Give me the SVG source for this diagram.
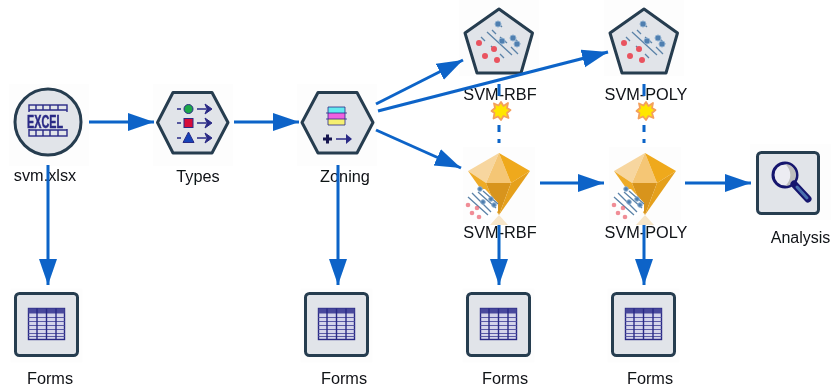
<svg xmlns="http://www.w3.org/2000/svg" width="831" height="389" viewBox="0 0 831 389">
<style>
text{font-family:"Liberation Sans",Arial,sans-serif;font-size:16.3px;fill:#101216;text-anchor:middle}
.sh{fill:#e1e4e9;stroke:#263c50;stroke-width:3;stroke-linejoin:round}
.bg{fill:#fdfdfd}
.c{fill:none;stroke:#0a64c8;stroke-width:3}
.d{fill:none;stroke:#0a64c8;stroke-width:3}
.n{fill:none;stroke:#2a2a86;stroke-width:1.400}
.l{fill:none;stroke:#5a5aa6;stroke-width:1.200}
.r{fill:#e9525f}.b{fill:#4f7fb0;stroke:#8fb0d0;stroke-width:1}
.h{fill:none;stroke:#5b83a8;stroke-width:1.300}
</style>
<defs>
<filter id="soft" x="0" y="0" width="100%" height="100%"><feGaussianBlur stdDeviation="0.4"/></filter>
<marker id="ah" markerUnits="userSpaceOnUse" markerWidth="28" markerHeight="20" refX="26" refY="9" orient="auto"><path d="M0 0L26 9L0 18Z" fill="#0a64c8"/></marker>
<g id="table">
<rect x="-18" y="-16" width="36" height="31" fill="#d4d4ea" stroke="#2a2a86" stroke-width="1.400"/>
<rect x="-18" y="-16" width="36" height="5" fill="#4a4a9c"/>
<path class="l" d="M-18 -7H18M-18 -3H18M-18 1H18M-18 5H18M-18 9H18M-18 12H18"/>
<path class="n" d="M-9.500 -16V15M0 -16V15M9.500 -16V15"/>
</g>
<g id="forms">
<rect class="bg" x="-36" y="-36" width="72" height="74"/>
<rect class="sh" x="-31" y="-31" width="62" height="62" rx="4"/>
<use href="#table"/>
</g>
<g id="penta">
<rect class="bg" x="-40" y="-9" width="80" height="76"/>
<path class="sh" d="M0 0L33.500 24L22 64H-22L-34 24Z"/>
<path class="h" d="M-12 23L13 46M-7 21L-3 25M1 28L8 34M12 38L19 45M-18 28L-14 32M-8 37L-3 42M1 45L5 49M-2 13L3 18M16 30L21 35"/>
<circle class="b" cx="-1" cy="15" r="3"/><circle class="b" cx="14" cy="29" r="3"/>
<circle class="b" cx="3" cy="32" r="3"/><circle class="b" cx="18" cy="35" r="3"/>
<circle class="r" cx="-20" cy="34" r="3"/><circle class="r" cx="-5" cy="40" r="3"/><circle class="r" cx="-14" cy="47" r="3"/><circle class="r" cx="-2" cy="51" r="3"/>
</g>
<g id="gem">
<rect class="bg" x="-36" y="-6" width="72" height="76"/>
<path d="M0 0L-31 18L-13 30Z" fill="#f7d69f"/>
<path d="M0 0L-13 30H12Z" fill="#f5c674"/>
<path d="M0 0L12 30L31 18Z" fill="#efa91c"/>
<path d="M-31 18L-13 30L0 62Z" fill="#efab28"/>
<path d="M-13 30H12L0 62Z" fill="#d8941c"/>
<path d="M12 30L31 18L0 62Z" fill="#e5a01e"/>
<path d="M0 62L-9 72H9Z" fill="#f7e6c8"/>
<path d="M-24 36L-33 46L-13 68L-1 58L-1 50L-14 36Z" fill="#fff"/>
<path class="h" d="M-31 44L-11 62M-27 40L-8 59M-21 39L-3 55M-16 38L-1 51"/>
<circle class="b" cx="-19" cy="36" r="2.300"/><circle class="b" cx="-16" cy="49" r="2.300"/><circle class="b" cx="-8" cy="46" r="2.300"/><circle class="b" cx="-5" cy="52" r="2.300"/>
<circle class="r" cx="-31" cy="52" r="2.300" opacity=".65"/><circle class="r" cx="-22" cy="55" r="2.300" opacity=".65"/><circle class="r" cx="-27" cy="60" r="2.300" opacity=".65"/><circle class="r" cx="-20" cy="64" r="2.300" opacity=".65"/>
</g>
<g id="star">
<path d="M0 -9L2.500 -5L7 -8L6 -3L9.500 -1L6 2L7.500 7L2.500 5L0 9L-3 5.500L-7.500 7.500L-6.500 2L-9.500 0L-6 -3L-7 -7.500L-2.500 -5.500Z" fill="#ffe600" stroke="#f4a05c" stroke-width="1.800" stroke-linejoin="round"/>
</g>
</defs>
<rect width="831" height="389" fill="#fff"/>
<g filter="url(#soft)">
<g id="excel-node">
<rect class="bg" x="9" y="84" width="80" height="82"/>
<circle class="sh" cx="48" cy="122" r="33"/>
<rect x="29" y="105" width="38" height="31" fill="#e1e4e9" stroke="#2a2a86" stroke-width="1.400"/>
<path class="n" d="M29 110H67M29 130H67M36 105V110M43 105V110M50 105V110M58 105V110M36 130V136M43 130V136M50 130V136M58 130V136"/>
<rect x="26" y="112" width="44" height="17" fill="#e1e4e9"/>
<text x="45" y="127.500" textLength="36" lengthAdjust="spacingAndGlyphs" style="font-size:17.500px;font-weight:700;fill:#2a2a86;stroke:#2a2a86;stroke-width:.5">EXCEL</text>
<text x="45" y="181">svm.xlsx</text>
</g>
<g id="types-node">
<rect class="bg" x="153" y="84" width="80" height="82"/>
<path class="sh" d="M157.500 122.500L173 92.500H212L228 122.500L212 153H173Z"/>
<path d="M177 109H181M177 123H181M177 138H181M197 109H206M197 123H206M197 138H206" fill="none" stroke="#2a2a86" stroke-width="1.500"/>
<path d="M205 104L207 109L205 114L212 109ZM205 118L207 123L205 128L212 123ZM205 133L207 138L205 143L212 138Z" fill="#2a2a86" stroke="#2a2a86"/>
<circle cx="188.500" cy="109" r="4.500" fill="#1fa84a" stroke="#2a2a86"/>
<rect x="184" y="118.500" width="9" height="9" fill="#d6103a" stroke="#2a2a86"/>
<path d="M188.500 132L194 142.500H183Z" fill="#1443b8" stroke="#2a2a86"/>
<text x="198" y="182">Types</text>
</g>
<g id="zoning-node">
<rect class="bg" x="297" y="84" width="80" height="82"/>
<path class="sh" d="M302 122.500L318 92.500H357L373 122.500L357 153H318Z"/>
<rect x="328" y="107" width="17" height="6" fill="#63eaf0"/><rect x="328" y="113" width="17" height="6" fill="#f060e0"/><rect x="328" y="119" width="17" height="6" fill="#f5ef70"/>
<path d="M326 113H347M326 119H347M328 107H345V125H328Z" fill="none" stroke="#2a2a86" stroke-width=".8"/>
<path d="M323 139H332M327.500 134.500V143.500" stroke="#15154f" stroke-width="3" fill="none"/>
<path d="M336 139H346" stroke="#2a2a86" stroke-width="1.500" fill="none"/><path d="M346 134L352 139L346 144Z" fill="#2a2a86"/>
<text x="345" y="182">Zoning</text>
</g>
<g id="svm-rbf-model">
<use href="#penta" x="499" y="9"/>
<text x="500" y="100">SVM-RBF</text>
<use href="#star" x="501" y="111"/>
</g>
<g id="svm-poly-model">
<use href="#penta" x="644" y="9"/>
<text x="646" y="100">SVM-POLY</text>
<use href="#star" x="646" y="111"/>
</g>
<g id="svm-rbf-nugget">
<use href="#gem" x="499" y="153"/>
<text x="500" y="238">SVM-RBF</text>
</g>
<g id="svm-poly-nugget">
<use href="#gem" x="645" y="153"/>
<text x="646" y="238">SVM-POLY</text>
</g>
<g id="analysis-node">
<rect class="bg" x="750" y="144" width="81" height="76"/>
<rect class="sh" x="757.500" y="152.500" width="61" height="61" rx="4"/>
<circle cx="785" cy="175" r="12" fill="#ececf2" stroke="#15156e" stroke-width="3"/>
<path d="M785 164A11 11 0 0 1 785 186A14 14 0 0 0 785 164Z" fill="#bdbdbd"/>
<path d="M794 184L808 199" stroke="#15156e" stroke-width="7" stroke-linecap="round" fill="none"/>
<path d="M797 187L807 198" stroke="#4a6fae" stroke-width="3" stroke-linecap="round" fill="none"/>
<text x="800.500" y="243" style="font-size:16px">Analysis</text>
</g>
<g id="forms-1"><use href="#forms" x="46.500" y="324.500"/><text x="50" y="384">Forms</text></g>
<g id="forms-2"><use href="#forms" x="336.500" y="324.500"/><text x="344" y="384">Forms</text></g>
<g id="forms-3"><use href="#forms" x="498.500" y="324.500"/><text x="505" y="384">Forms</text></g>
<g id="forms-4"><use href="#forms" x="643.500" y="324.500"/><text x="650" y="384">Forms</text></g>

<g id="connectors">
<path class="c" marker-end="url(#ah)" d="M89 122H154"/>
<path class="c" marker-end="url(#ah)" d="M234 122H299"/>
<path class="c" marker-end="url(#ah)" d="M376 104L463 60"/>
<path class="c" marker-end="url(#ah)" d="M378 111L608 52"/>
<path class="c" marker-end="url(#ah)" d="M376 130L461 168"/>
<path class="c" marker-end="url(#ah)" d="M540 183H604"/>
<path class="c" marker-end="url(#ah)" d="M685 183H751"/>
<path class="c" marker-end="url(#ah)" d="M48 165V285"/>
<path class="c" marker-end="url(#ah)" d="M338 165V285"/>
<path class="c" marker-end="url(#ah)" d="M499 225V285"/>
<path class="c" marker-end="url(#ah)" d="M644 225V285"/>
<path class="d" d="M499 84V96M499 125V132M499 139V143"/>
<path class="d" d="M644 84V96M644 125V132M644 139V143"/>
</g>
</g>
</svg>
